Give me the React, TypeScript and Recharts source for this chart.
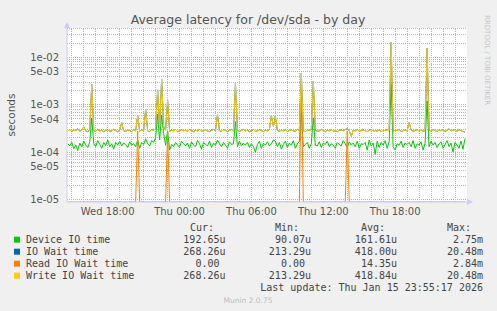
import { LineChart, Line, XAxis, YAxis, CartesianGrid, ReferenceLine } from 'recharts'

// 10-minute samples, hour 14.667 = Wed 14:40, last one Thu 23:50
const startHour = 14 + 40 / 60
const stepHours = 1 / 6

// all values in microseconds
const deviceIo = [
  150, 135, 160, 118, 142, 108, 155, 128, 170, 140,
  125, 165, 520, 150, 130, 175, 145, 120, 160, 138,
  180, 130, 150, 115, 160, 140, 170, 135, 155, 145,
  125, 165, 140, 150, 130, 180, 120, 160, 145, 190,
  150, 135, 175, 160, 200, 630, 180, 600, 250, 140,
  280, 110, 145, 130, 160, 140, 125, 170, 150, 135,
  155, 120, 165, 140, 130, 175, 150, 115, 160, 145,
  135, 170, 125, 155, 140, 180, 150, 130, 160, 140,
  120, 165, 145, 150, 440, 130, 170, 135, 155, 140,
  160, 125, 150, 130, 100, 145, 170, 120, 155, 140,
  165, 135, 150, 180, 170, 130, 160, 115, 145, 170,
  125, 155, 140, 175, 120, 150, 165, 740, 130, 145,
  160, 120, 150, 530, 140, 135, 165, 125, 155, 145,
  170, 130, 150, 140, 120, 160, 145, 135, 175, 150,
  125, 165, 140, 155, 130, 170, 120, 150, 145, 160,
  110, 180, 135, 155, 90, 170, 125, 160, 140, 175,
  120, 165, 2750, 130, 110, 150, 140, 170, 125, 155,
  145, 160, 130, 175, 120, 150, 140, 165, 110, 155,
  1200, 130, 170, 140, 160, 125, 150, 165, 120, 145,
  175, 130, 155, 100, 160, 140, 120, 170, 115, 193,
]

const writeIoWait = [
  280, 300, 270, 290, 285, 310, 275, 295, 340, 280,
  270, 295, 2700, 285, 275, 300, 280, 290, 270, 285,
  295, 275, 280, 300, 285, 270, 290, 420, 280, 275,
  290, 285, 270, 300, 280, 590, 275, 295, 285, 810,
  280, 270, 300, 290, 310, 2050, 320, 3480, 350, 290,
  1250, 275, 290, 280, 300, 270, 285, 295, 280, 290,
  275, 300, 285, 270, 290, 280, 300, 275, 285, 295,
  280, 270, 290, 300, 285, 625, 280, 275, 295, 285,
  270, 290, 300, 280, 2830, 290, 275, 285, 300, 280,
  290, 270, 285, 300, 275, 280, 295, 285, 270, 290,
  280, 300, 590, 350, 590, 285, 275, 290, 280, 300,
  270, 285, 295, 280, 275, 300, 290, 4600, 280, 270,
  295, 285, 300, 3160, 290, 275, 280, 300, 285, 270,
  290, 280, 300, 275, 285, 270, 290, 295, 280, 300,
  310, 285, 215, 290, 280, 300, 275, 285, 295, 280,
  270, 290, 300, 280, 285, 275, 295, 270, 290, 285,
  300, 280, 20480, 275, 290, 285, 300, 270, 285, 290,
  280, 420, 295, 275, 285, 300, 280, 290, 275, 285,
  15500, 290, 280, 300, 285, 270, 295, 280, 300, 275,
  285, 310, 280, 290, 300, 275, 295, 285, 270, 268,
]

// IO wait is the same as write wait here (no reads to speak of)
const ioWait = writeIoWait

// read wait is zero except for a few samples
const readSpikeIdx = [35, 50, 117, 140]
const readSpikeVal = [280, 280, 2840, 280]

const xTicks = [18, 24, 30, 36, 42]
const xTickLabels = ['Wed 18:00', 'Thu 00:00', 'Thu 06:00', 'Thu 12:00', 'Thu 18:00']
const yTicks = [1e-5, 5e-5, 1e-4, 5e-4, 1e-3, 5e-3, 1e-2]

const legendNames = ['Device IO time', 'IO Wait time', 'Read IO Wait time', 'Write IO Wait time']
const legendColors = ['#00cc00', '#0066b3', '#ff8000', '#ffcc00']
const curCol = ['192.65u', '268.26u', '0.00 ', '268.26u']
const minCol = ['90.07u', '213.29u', '0.00 ', '213.29u']
const avgCol = ['161.61u', '418.00u', '14.35u', '418.84u']
const maxCol = ['2.75m', '20.48m', '2.84m', '20.48m']

const yMin = 8.86e-6
const yMax = 0.0415

const data = deviceIo.map((d, i) => {
  const k = readSpikeIdx.indexOf(i)
  const read = k >= 0 ? readSpikeVal[k] * 1e-6 : 0
  return {
    t: startHour + i * stepHours,
    device: d * 1e-6,
    iowait: ioWait[i] * 1e-6,
    read: read > 0 ? read : yMin, // zero sits on the floor of the log axis
    write: writeIoWait[i] * 1e-6,
  }
})

// minor grid values 1..9 x 10^k inside the domain
const gridVals: { v: number; major: boolean }[] = []
for (let e = -5; e <= -2; e++) {
  for (let n = 1; n <= 9; n++) {
    const v = n * Math.pow(10, e)
    if (v <= yMax) gridVals.push({ v, major: n === 1 || n === 5 })
  }
}
const hourLines: number[] = []
for (let h = 15; h <= 47; h++) hourLines.push(h)

function fmtExp(v: number) {
  const e = Math.floor(Math.log10(v) + 1e-9)
  const m = Math.round(v / Math.pow(10, e))
  return `${m}e-${String(-e).padStart(2, '0')}`
}

const mono = '"DejaVu Sans Mono", monospace'
const sans = '"DejaVu Sans", sans-serif'
const GRID = '#bababa'
const MGRID = '#e99c9c'
const AXIS = '#c9cdf5'

export default function App() {
  const rows = [239.7, 251.7, 263.7, 275.7]
  return (
    <div style={{ position: 'absolute', left: 0, top: 0, width: 497, height: 311, background: '#f0f0f0' }}>
      <LineChart width={497} height={311} data={data} margin={{ top: 28, right: 30, bottom: 89, left: 0 }}>
        <CartesianGrid horizontal={false} vertical={false} fill="#ffffff" />
        {gridVals.map(g => (
          <ReferenceLine
            key={'h' + g.v}
            y={g.v}
            stroke={g.major ? MGRID : GRID}
            strokeDasharray="1 1"
            shapeRendering="crispEdges"
          />
        ))}
        {hourLines.map(h => (
          <ReferenceLine
            key={'v' + h}
            x={h}
            stroke={h % 3 === 0 ? MGRID : GRID}
            strokeDasharray="1 1"
            shapeRendering="crispEdges"
          />
        ))}
        <XAxis
          dataKey="t"
          type="number"
          domain={[14.6, 48.0]}
          allowDataOverflow
          ticks={xTicks}
          interval={0}
          tickFormatter={(v: number) => xTickLabels[xTicks.indexOf(v)]}
          tick={{ fill: '#555', fontSize: 10, fontFamily: sans }}
          tickLine={false}
          tickMargin={0}
          axisLine={{ stroke: AXIS }}
          height={20}
        />
        <YAxis
          scale="log"
          domain={[yMin, yMax]}
          allowDataOverflow
          ticks={yTicks}
          interval={0}
          tickFormatter={fmtExp}
          tick={{ fill: '#555', fontSize: 10, fontFamily: sans }}
          tickLine={false}
          axisLine={{ stroke: AXIS }}
          width={67}
        />
        <Line dataKey="device" stroke="#00cc00" strokeWidth={1} dot={false} isAnimationActive={false} />
        <Line dataKey="iowait" stroke="#0066b3" strokeWidth={1} dot={false} isAnimationActive={false} />
        <Line dataKey="read" stroke="#ff8000" strokeWidth={1} dot={false} isAnimationActive={false} />
        <Line dataKey="write" stroke="#ffcc00" strokeWidth={1} dot={false} isAnimationActive={false} />
      </LineChart>
      <svg width={497} height={311} style={{ position: 'absolute', left: 0, top: 0, pointerEvents: 'none' }}>
        <text x={248} y={19} textAnchor="middle" dominantBaseline="central" fontFamily={sans} fontSize={12.5} fill="#555">
          Average latency for /dev/sda - by day
        </text>
        <text
          x={11}
          y={115}
          textAnchor="middle"
          dominantBaseline="central"
          fontFamily={sans}
          fontSize={10.5}
          fill="#555"
          transform="rotate(-90 11 115)"
        >
          seconds
        </text>
        <text
          x={487}
          y={15}
          textAnchor="start"
          dominantBaseline="central"
          fontFamily={sans}
          fontSize={7}
          fill="#c4c4c4"
          transform="rotate(90 487 15)"
        >
          RRDTOOL / TOBI OETIKER
        </text>
        <polygon points="64,28 70,28 67,22" fill={AXIS} />
        <polygon points="467,199 467,205 473,202" fill={AXIS} />
        {['Cur:', 'Min:', 'Avg:', 'Max:'].map((h, i) => (
          <text key={h} x={[190, 275, 361, 447][i]} y={227.7} dominantBaseline="central" fontFamily={mono} fontSize={10} fill="#444">
            {h}
          </text>
        ))}
        {legendNames.map((name, i) => (
          <g key={name}>
            <rect x={14} y={rows[i] - 3} width={6} height={6} fill={legendColors[i]} />
            <text x={26} y={rows[i]} dominantBaseline="central" fontFamily={mono} fontSize={10} fill="#444">
              {name}
            </text>
            {[curCol, minCol, avgCol, maxCol].map((col, j) => (
              <text
                key={j}
                x={[225.5, 311, 397, 483][j]}
                y={rows[i]}
                textAnchor="end"
                dominantBaseline="central"
                fontFamily={mono}
                fontSize={10}
                fill="#444"
                style={{ whiteSpace: 'pre' }}
              >
                {col[i]}
              </text>
            ))}
          </g>
        ))}
        <text x={483} y={287.7} textAnchor="end" dominantBaseline="central" fontFamily={mono} fontSize={10} fill="#444">
          Last update: Thu Jan 15 23:55:17 2026
        </text>
        <text x={248} y={300} textAnchor="middle" dominantBaseline="central" fontFamily={sans} fontSize={7.5} fill="#bdbdbd">
          Munin 2.0.75
        </text>
      </svg>
    </div>
  )
}
